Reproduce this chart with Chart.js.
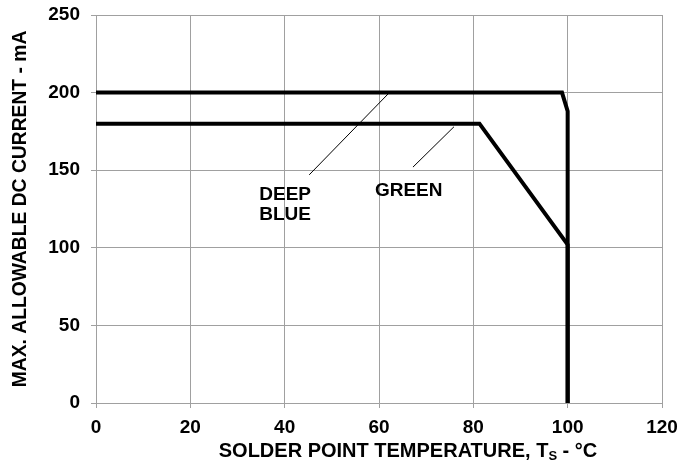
<!DOCTYPE html>
<html>
<head>
<meta charset="utf-8">
<script src="https://cdn.jsdelivr.net/npm/chart.js@4.4.0/dist/chart.umd.min.js"></script>
<style>
  html, body { margin: 0; padding: 0; background: #fff; }
  #wrap { width: 681px; height: 468px; }
</style>
</head>
<body>
<div id="wrap"><canvas id="derating"></canvas></div>
<script>
// ---------- Data ----------
const xTicks = [0, 20, 40, 60, 80, 100, 120];
const yTicks = [0, 50, 100, 150, 200, 250];

const deepBlueTemp = [0, 98.8, 100, 100];
const deepBlueCurrent = [200, 200, 188, 0];

const greenTemp = [0, 81.3, 100, 100];
const greenCurrent = [180, 180, 102, 0];

// leader lines from label to curve
const deepBlueLeaderTemp = [45.2, 62.2];
const deepBlueLeaderCurrent = [147, 200];
const greenLeaderTemp = [67.2, 75.9];
const greenLeaderCurrent = [152, 178];

// label anchors (data coordinates)
const labelText = ["DEEP", "BLUE", "GREEN"];
const labelTemp = [40.1, 40.1, 66.3];
const labelCurrent = [134, 121, 137];

const FONT = "'Liberation Sans', Arial, sans-serif";

function toPoints(xs, ys) {
  return xs.map((x, i) => ({ x: x, y: ys[i] }));
}

// ---------- Labels + x title plugin ----------
const textPlugin = {
  id: "textPlugin",
  afterDraw(chart) {
    const c = chart.ctx;
    const xs = chart.scales.x;
    const ys = chart.scales.y;
    c.save();
    c.fillStyle = "#000";
    c.textAlign = "center";
    c.textBaseline = "middle";
    c.font = "bold 19px " + FONT;
    labelText.forEach((t, i) => {
      c.fillText(t, xs.getPixelForValue(labelTemp[i]), ys.getPixelForValue(labelCurrent[i]));
    });

    // x axis title with subscript S
    const main = "SOLDER POINT TEMPERATURE, T";
    const sub = "S";
    const tail = " - °C";
    c.font = "bold 20px " + FONT;
    const w1 = c.measureText(main).width;
    const w3 = c.measureText(tail).width;
    c.font = "bold 13px " + FONT;
    const w2 = c.measureText(sub).width;
    const total = w1 + w2 + w3;
    let x = 408 - total / 2;
    const y = 451;
    c.textAlign = "left";
    c.font = "bold 20px " + FONT;
    c.fillText(main, x, y);
    x += w1;
    c.font = "bold 13px " + FONT;
    c.fillText(sub, x, y + 5);
    x += w2;
    c.font = "bold 20px " + FONT;
    c.fillText(tail, x, y);
    c.restore();
  }
};

// ---------- Chart ----------
const ctx = document.getElementById("derating").getContext("2d");

const lineStyle = {
  borderColor: "#000",
  pointRadius: 0,
  fill: false,
  tension: 0,
};

new Chart(ctx, {
  type: "line",
  data: {
    datasets: [
      { ...lineStyle, label: "DEEP BLUE", data: toPoints(deepBlueTemp, deepBlueCurrent), borderWidth: 4, borderJoinStyle: "miter" },
      { ...lineStyle, label: "GREEN", data: toPoints(greenTemp, greenCurrent), borderWidth: 4, borderJoinStyle: "miter" },
      { ...lineStyle, label: "lead1", data: toPoints(deepBlueLeaderTemp, deepBlueLeaderCurrent), borderWidth: 1 },
      { ...lineStyle, label: "lead2", data: toPoints(greenLeaderTemp, greenLeaderCurrent), borderWidth: 1 },
    ],
  },
  options: {
    responsive: true,
    maintainAspectRatio: false,
    animation: false,
    layout: { padding: { top: 15, right: 19, left: 0, bottom: 0 } },
    plugins: {
      legend: { display: false },
      tooltip: { enabled: false },
    },
    scales: {
      x: {
        type: "linear",
        min: 0,
        max: 120,
        afterBuildTicks(scale) {
          scale.ticks = xTicks.map(v => ({ value: v }));
        },
        afterFit(scale) {
          scale.height = 65;
          scale.paddingLeft = 0;
          scale.paddingRight = 0;
        },
        grid: { color: "#a0a0a0", lineWidth: 1, tickLength: 5 },
        border: { color: "#a0a0a0" },
        ticks: {
          color: "#000",
          padding: 8,
          maxRotation: 0,
          font: { family: FONT, size: 19, weight: "bold" },
        },
      },
      y: {
        type: "linear",
        min: 0,
        max: 250,
        afterBuildTicks(scale) {
          scale.ticks = yTicks.map(v => ({ value: v }));
        },
        afterFit(scale) {
          scale.width = 96;
          scale.paddingTop = 0;
          scale.paddingBottom = 0;
        },
        grid: { color: "#a0a0a0", lineWidth: 1, tickLength: 5 },
        border: { color: "#a0a0a0" },
        title: {
          display: true,
          text: "MAX. ALLOWABLE DC CURRENT - mA",
          color: "#000",
          padding: { top: 9, bottom: 0 },
          font: { family: FONT, size: 19.3, weight: "bold" },
        },
        ticks: {
          color: "#000",
          padding: 11,
          font: { family: FONT, size: 19, weight: "bold" },
        },
      },
    },
  },
  plugins: [textPlugin],
});
</script>
</body>
</html>
